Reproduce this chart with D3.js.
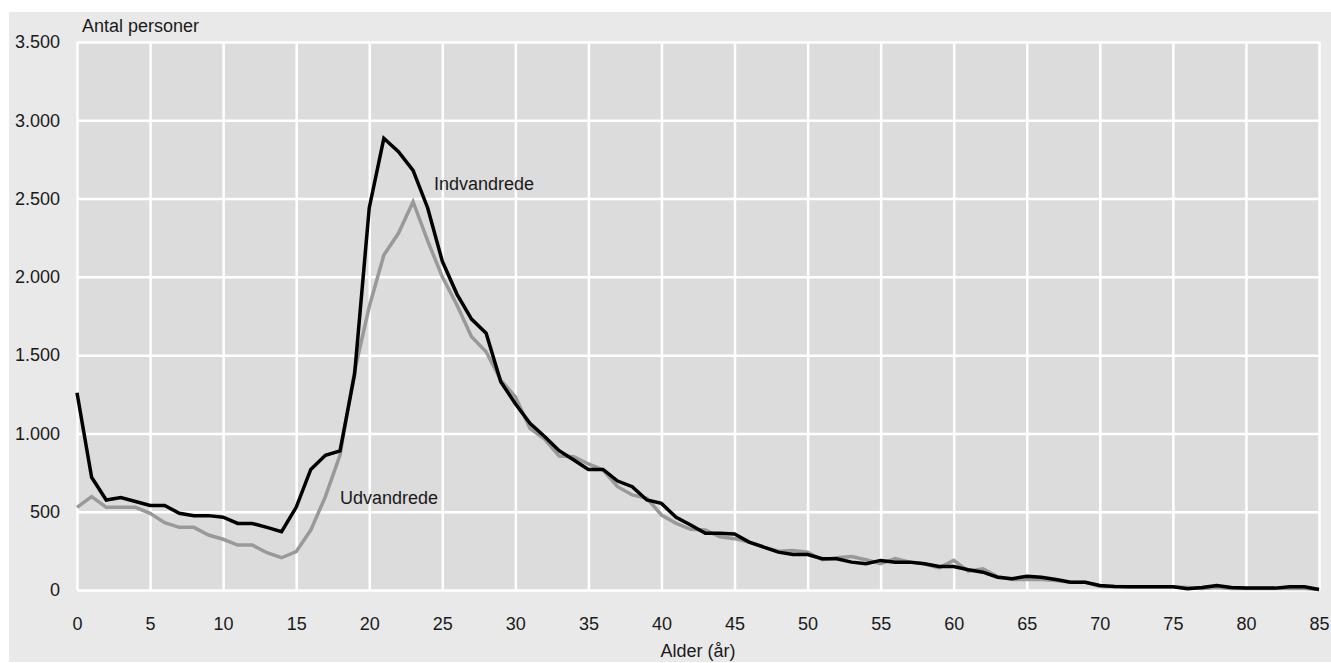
<!DOCTYPE html>
<html>
<head>
<meta charset="utf-8">
<script src="https://cdn.jsdelivr.net/npm/d3@7"></script>
<style>
  html, body { margin: 0; padding: 0; background: #ffffff; }
  svg { display: block; }
  text { font-family: "Liberation Sans", Arial, sans-serif; fill: #1a1a1a; }
</style>
</head>
<body>
<svg id="chart" width="1331" height="663"></svg>
<script>
// ---- Data ----
const ages = d3.range(0, 86);
const indvandrede = [
  1260, 720, 575, 590, 565, 540, 540, 490, 475, 475,
  465, 425, 425, 400, 372, 528, 770, 860, 888, 1380,
  2440, 2885, 2800, 2680, 2440, 2100, 1890, 1730, 1640, 1330,
  1190, 1065, 980, 890, 830, 770, 770, 696, 660, 575,
  553, 464, 415, 362, 362, 358, 306, 274, 242, 227,
  227, 200, 200, 178, 168, 189, 178, 178, 168, 150,
  150, 129, 114, 82, 72, 88, 82, 67, 50, 50,
  29, 22, 20, 20, 20, 20, 8, 16, 29, 16,
  12, 12, 12, 20, 20, 3
];
const udvandrede = [
  528, 596, 528, 528, 528, 490, 430, 400, 400, 351,
  324, 287, 287, 238, 206, 245, 383, 596, 862, 1400,
  1809, 2139, 2278, 2480, 2230, 2000, 1820, 1618, 1522, 1341,
  1234, 1032, 964, 856, 851, 805, 766, 660, 607, 586,
  479, 426, 388, 383, 340, 328, 306, 274, 248, 253,
  242, 193, 206, 214, 193, 168, 200, 178, 168, 142,
  189, 120, 136, 86, 67, 67, 67, 61, 50, 50,
  22, 22, 20, 20, 20, 20, 16, 10, 16, 10,
  10, 10, 10, 10, 10, 3
];
const xTicks = d3.range(0, 86, 5);
const yTicks = d3.range(0, 3501, 500);
const yAxisTitle = "Antal personer";
const xAxisTitle = "Alder (år)";
const seriesLabels = ["Indvandrede", "Udvandrede"];

// ---- Layout ----
const svg = d3.select("#chart");
const L = 77, R = 1319, T = 42, B = 590;
const x = d3.scaleLinear().domain([0, 85]).range([L, R]);
const y = d3.scaleLinear().domain([0, 3500]).range([B, T]);
const locale = d3.formatLocale({decimal: ",", thousands: ".", grouping: [3], currency: ["", ""]});
const fmt = locale.format(",d");

// outer panel
svg.append("rect").attr("x", 9).attr("y", 12).attr("width", 1322).attr("height", 650).attr("fill", "#e9e9e9");
// plot area
svg.append("rect").attr("x", L).attr("y", T).attr("width", R - L).attr("height", B - T).attr("fill", "#dcdcdc");

// grid
const gy = svg.append("g").attr("transform", `translate(${L},0)`)
  .call(d3.axisLeft(y).tickValues(yTicks).tickSize(-(R - L)).tickFormat(""));
const gx = svg.append("g").attr("transform", `translate(0,${B})`)
  .call(d3.axisBottom(x).tickValues(xTicks).tickSize(-(B - T)).tickFormat(""));
[gy, gx].forEach(g => {
  g.select(".domain").remove();
  g.selectAll(".tick line").attr("stroke", "#ffffff").attr("stroke-width", 2.5);
});

// tick labels
const ly = svg.append("g").attr("transform", `translate(${L},0)`)
  .call(d3.axisLeft(y).tickValues(yTicks).tickSize(0).tickPadding(17).tickFormat(fmt));
const lx = svg.append("g").attr("transform", `translate(0,${B})`)
  .call(d3.axisBottom(x).tickValues(xTicks).tickSize(0).tickPadding(27).tickFormat(d3.format("d")));
[ly, lx].forEach(g => {
  g.select(".domain").remove();
  g.selectAll("text").attr("font-size", 18).attr("font-family", '"Liberation Sans", Arial, sans-serif').attr("fill", "#1a1a1a");
});

// axis titles
svg.append("text").attr("x", 82).attr("y", 32).attr("font-size", 18).text(yAxisTitle);
svg.append("text").attr("x", (L + R) / 2).attr("y", 657).attr("text-anchor", "middle").attr("font-size", 18).text(xAxisTitle);

// lines
const line = d3.line().x((d, i) => x(ages[i])).y(d => y(d));
svg.append("path").datum(udvandrede).attr("d", line)
  .attr("fill", "none").attr("stroke", "#999999").attr("stroke-width", 3.5).attr("stroke-linejoin", "miter");
svg.append("path").datum(indvandrede).attr("d", line)
  .attr("fill", "none").attr("stroke", "#000000").attr("stroke-width", 3.5).attr("stroke-linejoin", "miter");

// series labels
svg.append("text").attr("x", 434).attr("y", 190).attr("font-size", 18).text(seriesLabels[0]);
svg.append("text").attr("x", 340).attr("y", 504).attr("font-size", 18).text(seriesLabels[1]);
</script>
</body>
</html>
